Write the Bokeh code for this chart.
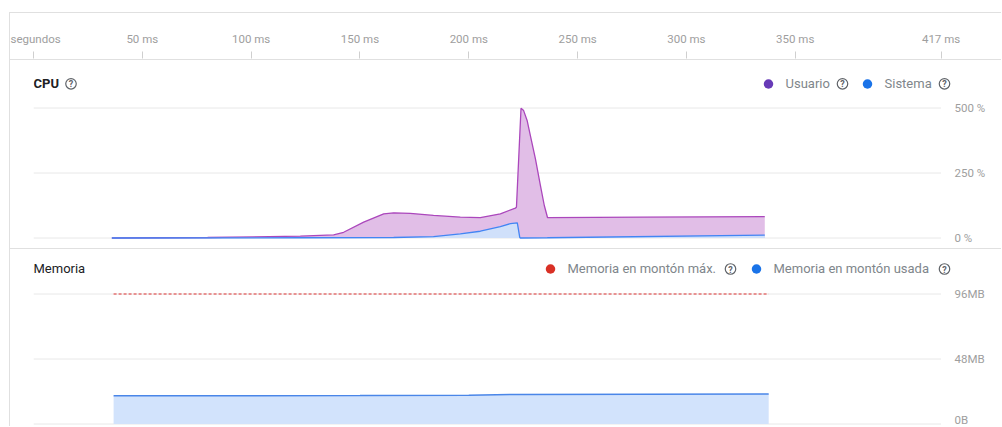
from bokeh.plotting import figure
from bokeh.models import Range1d, FixedTicker, Spacer, ColumnDataSource
from bokeh.layouts import column, row
from bokeh.embed import file_html
from bokeh.resources import INLINE
from bokeh.core.properties import value

# ---------------- data ----------------
time_ticks = [0, 50, 100, 150, 200, 250, 300, 350, 417]
time_labels = ["segundos", "50 ms", "100 ms", "150 ms", "200 ms", "250 ms", "300 ms", "350 ms", "417 ms"]

cpu_t = [36, 80, 122.6, 137.9, 142.5, 151.7, 160.9, 165.5, 173.1, 183.8, 196.1, 205.3, 214.5,
         221.4, 221.9, 224.0, 225.2, 226.8, 228.3, 230.6, 232.9, 234.7, 236.2, 280, 336]
cpu_usuario = [0, 2, 7, 12, 22, 61, 93, 97, 95, 87, 80, 78, 93,
               115, 118, 499, 490, 452, 394, 305, 202, 125, 78, 80, 82]

sis_t = [36, 122.6, 165.5, 183.8, 196.1, 205.3, 214.5, 219.1, 222.3, 223.4, 223.7, 236.1, 336]
cpu_sistema = [0, 1, 2, 5, 16, 26, 44, 55, 58, 3, 0, 1, 11]

cpu_ticks = [0, 250, 500]
cpu_tick_labels = ["0 %", "250 %", "500 %"]

mem_t = [36.8, 100, 150, 200, 222, 280, 337.8]
mem_usada = [20.9, 20.9, 21.0, 21.3, 21.8, 22.0, 22.1]
mem_max_t = [36.8, 337.8]
mem_max = [96, 96]

mem_ticks = [0, 48, 96]
mem_tick_labels = ["0B", "48MB", "96MB"]

cpu_legend = ["Usuario", "Sistema"]
mem_legend = ["Memoria en montón máx.", "Memoria en montón usada"]

# ---------------- layout constants ----------------
FONT = "Roboto"
W = 991                 # main column width (x 10 .. 1001)
LB = 23                 # frame starts at x = 33
PX_PER_MS = 908 / 417.2
FW = 923                # frame x 33 .. 956 (room for the legend help icons)
RB = W - LB - FW
X_END = FW / PX_PER_MS
FRAME_LEFT_PX = 33
FRAME_RIGHT_PX = FRAME_LEFT_PX + FW

CPU_TOP, CPU_H, CPU_ZERO_PX, CPU_PX_PER = 60, 188, 237.5, 0.26
CPU_HI = (CPU_ZERO_PX - CPU_TOP) / CPU_PX_PER
CPU_LO = -(CPU_TOP + CPU_H - CPU_ZERO_PX) / CPU_PX_PER

MEM_TOP, MEM_H, MEM_ZERO_PX, MEM_PX_PER = 249, 177, 423.5, 130 / 96
MEM_HI = (MEM_ZERO_PX - MEM_TOP) / MEM_PX_PER
MEM_LO = -(MEM_TOP + MEM_H - MEM_ZERO_PX) / MEM_PX_PER


def dx(px):
    return (px - FRAME_LEFT_PX) / PX_PER_MS


def cy(py):
    return (CPU_ZERO_PX - py) / CPU_PX_PER


def my(py):
    return (MEM_ZERO_PX - py) / MEM_PX_PER


LINE_GRAY = "#e0e0e0"
GRID_GRAY = "#e8e8e8"
LABEL_GRAY = "#9e9e9e"
LEGEND_GRAY = "#80868b"
ICON_GRAY = "#5f6368"
TITLE_COLOR = "#202124"
NO_SCROLL = {"overflow": "hidden"}

x_range = Range1d(0, X_END)


def rule(width, height):
    return Spacer(width=width, height=height, styles={"background-color": LINE_GRAY})


def style_right_axis(p, ticks, labels):
    p.yaxis.ticker = FixedTicker(ticks=ticks)
    p.yaxis.major_label_overrides = dict(zip(ticks, labels))
    p.yaxis.axis_line_color = None
    p.yaxis.major_tick_line_color = None
    p.yaxis.minor_tick_line_color = None
    p.yaxis.major_label_standoff = 948 - FRAME_RIGHT_PX
    p.yaxis.major_label_text_font = FONT
    p.yaxis.major_label_text_font_size = "11.5px"
    p.yaxis.major_label_text_color = LABEL_GRAY
    p.ygrid.visible = False
    p.xgrid.visible = False
    # horizontal grid lines at the tick values, spanning the time axis (0 .. 417 ms)
    p.segment(x0=[time_ticks[0]] * len(ticks), x1=[time_ticks[-1]] * len(ticks),
              y0=ticks, y1=ticks, line_color=GRID_GRAY, line_width=1, level="underlay")


def icon(p, xs, ys):
    p.scatter(x=xs, y=ys, marker="circle", size=10.5, fill_color=None,
              line_color=ICON_GRAY, line_width=1.2)
    p.text(x=xs, y=ys, text=["?"] * len(xs), text_font=value(FONT), text_font_size="9px",
           text_font_style="bold", text_color=ICON_GRAY, text_align="center",
           text_baseline="middle", y_offset=0.5)


def base_fig(height, y_range):
    p = figure(width=W, height=height, x_range=x_range, y_range=y_range,
               toolbar_location=None, output_backend="svg",
               min_border_left=LB, min_border_right=RB, min_border_top=0, min_border_bottom=0,
               x_axis_type=None, y_axis_location="right")
    p.outline_line_color = None
    p.background_fill_color = "white"
    p.border_fill_color = "white"
    return p


# ---------------- header (time axis) ----------------
hdr = figure(width=W, height=46, x_range=x_range, y_range=Range1d(0, 1),
             toolbar_location=None, output_backend="svg",
             min_border_left=LB, min_border_right=RB, min_border_top=45, min_border_bottom=0,
             x_axis_location="above", y_axis_type=None)
hdr.outline_line_color = None
hdr.xgrid.visible = False
hdr.xaxis.ticker = FixedTicker(ticks=time_ticks)
hdr.xaxis.major_label_overrides = dict(zip(time_ticks, time_labels))
hdr.xaxis.axis_line_color = None
hdr.xaxis.major_tick_line_color = "#cfcfcf"
hdr.xaxis.major_tick_in = 0
hdr.xaxis.major_tick_out = 7
hdr.xaxis.minor_tick_line_color = None
hdr.xaxis.major_label_standoff = 6
hdr.xaxis.major_label_text_font = FONT
hdr.xaxis.major_label_text_font_size = "11.5px"
hdr.xaxis.major_label_text_color = LABEL_GRAY

# ---------------- CPU ----------------
cpu = base_fig(CPU_H, Range1d(CPU_LO, CPU_HI))
style_right_axis(cpu, cpu_ticks, cpu_tick_labels)

src_u = ColumnDataSource(dict(t=cpu_t, v=cpu_usuario))
src_s = ColumnDataSource(dict(t=sis_t, v=cpu_sistema))
cpu.varea(x="t", y1=0, y2="v", source=src_u, fill_color="#e1bee7")
cpu.line(x="t", y="v", source=src_u, line_color="#ab47bc", line_width=1.3)
cpu.varea(x="t", y1=0, y2="v", source=src_s, fill_color="#cfe2fb", fill_alpha=0.95)
cpu.line(x="t", y="v", source=src_s, line_color="#4285f4", line_width=1.3)

cpu.text(x=[dx(33)], y=[cy(83)], text=["CPU"], text_font=value(FONT), text_font_size="13px",
         text_font_style="bold", text_color=TITLE_COLOR, text_align="left", text_baseline="middle")
icon(cpu, [dx(70.5)], [cy(83.3)])

cpu.scatter(x=[dx(768), dx(867)], y=[cy(83.5)] * 2, marker="circle", size=9.5,
            fill_color=["#673ab7", "#1a73e8"], line_color=None)
cpu.text(x=[dx(785), dx(884)], y=[cy(83)] * 2, text=cpu_legend, text_font=value(FONT),
         text_font_size="13px", text_color=LEGEND_GRAY, text_align="left", text_baseline="middle")
icon(cpu, [dx(842), dx(944)], [cy(83.3)] * 2)

# ---------------- Memory ----------------
mem = base_fig(MEM_H, Range1d(MEM_LO, MEM_HI))
style_right_axis(mem, mem_ticks, mem_tick_labels)

src_m = ColumnDataSource(dict(t=mem_t, v=mem_usada))
mem.varea(x="t", y1=0, y2="v", source=src_m, fill_color="#d2e3fc")
mem.line(x="t", y="v", source=src_m, line_color="#4a86e8", line_width=1.5)
mem.line(x=mem_max_t, y=mem_max, line_color="#e57373", line_width=1.3, line_dash="3 2")

mem.text(x=[dx(33)], y=[my(268)], text=["Memoria"], text_font=value(FONT), text_font_size="13px",
         text_color=TITLE_COLOR, text_align="left", text_baseline="middle")
mem.scatter(x=[dx(550), dx(756)], y=[my(268.5)] * 2, marker="circle", size=9.5,
            fill_color=["#d93025", "#1a73e8"], line_color=None)
mem.text(x=[dx(567), dx(773)], y=[my(268)] * 2, text=mem_legend, text_font=value(FONT),
         text_font_size="13px", text_color=LEGEND_GRAY, text_align="left", text_baseline="middle")
icon(mem, [dx(730), dx(944)], [my(268.5)] * 2)

# ---------------- assemble ----------------
main = column(Spacer(width=W, height=12), rule(W, 1), hdr, rule(W, 1), cpu, rule(W, 1), mem,
              spacing=0, styles=NO_SCROLL)
left = column(Spacer(width=1, height=12), rule(1, 414), spacing=0, styles=NO_SCROLL)
layout = row(Spacer(width=9, height=426), left, main, spacing=0, styles=NO_SCROLL)

open("out.html", "w").write(file_html(layout, INLINE, title="CPU y Memoria"))
